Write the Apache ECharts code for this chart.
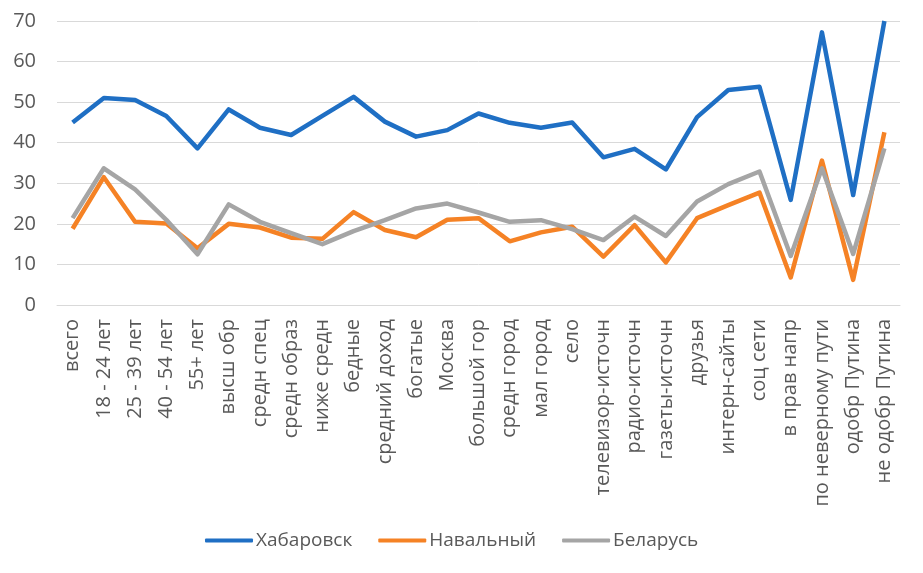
<!DOCTYPE html>
<html>
<head>
<meta charset="utf-8">
<script src="https://cdn.jsdelivr.net/npm/echarts@6/dist/echarts.min.js"></script>
<style>html,body{margin:0;padding:0;background:#fff}#c{width:923px;height:573px}</style>
</head>
<body>
<div id="c"></div>
<script>
const categories = ["всего","18 - 24 лет","25 - 39 лет","40 - 54 лет","55+ лет","высш обр","средн спец","средн образ","ниже средн","бедные","средний доход","богатые","Москва","большой гор","средн город","мал город","село","телевизор-источн","радио-источн","газеты-источн","друзья","интерн-сайты","соц сети","в прав напр","по неверному пути","одобр Путина","не одобр Путина"];
const khabarovsk = [45,51,50.5,46.6,38.6,48.2,43.7,41.9,46.6,51.3,45.2,41.5,43.1,47.2,44.9,43.7,45.0,36.4,38.5,33.4,46.3,53.0,53.8,25.9,67.2,27.1,70];
const navalny = [18.8,31.5,20.5,20.1,14.0,20.0,19.1,16.6,16.3,22.9,18.5,16.7,21.0,21.4,15.7,17.9,19.3,11.9,19.7,10.5,21.4,24.6,27.7,6.8,35.6,6.2,42.6];
const belarus = [21.4,33.7,28.5,21.0,12.5,24.8,20.5,17.7,15.0,18.2,20.9,23.8,25.0,22.8,20.5,20.9,18.7,16.0,21.8,17.0,25.5,29.8,32.9,12.1,33.7,12.6,38.6];
const seriesNames = ["Хабаровск","Навальный","Беларусь"];
const colors = ["#1f6fc4","#f58225","#a5a5a5"];
const font = "'Open Sans', 'Noto Sans', sans-serif";
const chart = echarts.init(document.getElementById('c'));
const mk = (name, data, color) => ({
  name, type: 'line', data, symbol: 'none', smooth: false,
  lineStyle: { color, width: 4.5, join: 'round' }, itemStyle: { color }
});
chart.setOption({
  animation: false,
  color: colors,
  grid: { left: 57, right: 23, top: 21, bottom: 268, containLabel: false },
  xAxis: {
    type: 'category', data: categories, boundaryGap: true,
    axisLine: { show: true, lineStyle: { color: '#d9d9d9', width: 1 } },
    axisTick: { show: false },
    axisLabel: { rotate: 90, interval: 0, fontSize: 20, color: '#595959', fontFamily: font, margin: 14 }
  },
  yAxis: {
    type: 'value', min: 0, max: 70, interval: 10,
    axisLine: { show: false }, axisTick: { show: false },
    splitLine: { lineStyle: { color: '#d9d9d9', width: 1 } },
    axisLabel: { fontSize: 20, color: '#595959', fontFamily: font, margin: 21 }
  },
  legend: {
    bottom: 18, left: 200, itemWidth: 48, itemHeight: 4, itemGap: 26,
    icon: 'roundRect',
    textStyle: { fontSize: 19, color: '#595959', fontFamily: font, padding: [0,0,0,-2] },
    data: seriesNames
  },
  series: [mk(seriesNames[0], khabarovsk, colors[0]), mk(seriesNames[1], navalny, colors[1]), mk(seriesNames[2], belarus, colors[2])]
});
</script>
</body>
</html>
